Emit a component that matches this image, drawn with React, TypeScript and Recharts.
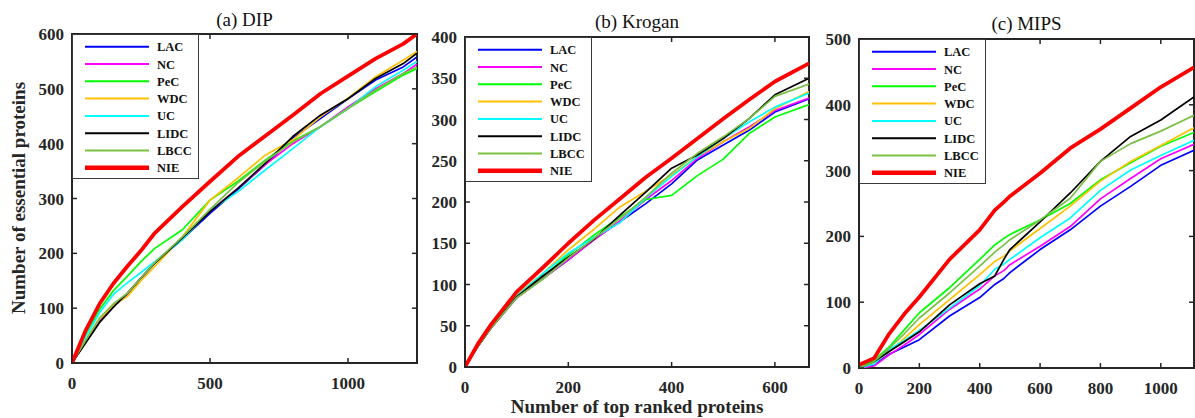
import React from 'react';
import { LineChart, Line, XAxis, YAxis, ReferenceArea, Legend } from 'recharts';

const SERIES = ['LAC', 'NC', 'PeC', 'WDC', 'UC', 'LIDC', 'LBCC', 'NIE'];
const COLORS = ['#0000FF', '#FF00FF', '#00FF00', '#FFC000', '#00FFFF', '#000000', '#7AC143', '#FF0000'];
const WIDTHS = [1.7, 1.7, 1.7, 1.7, 1.7, 1.7, 1.7, 3.8];

// (a) DIP
const dipX = [0, 50, 100, 150, 200, 250, 300, 400, 500, 600, 700, 800, 900, 1000, 1100, 1200, 1250];
const dipLAC = [0, 40, 78, 105, 125, 155, 182, 226, 273, 316, 362, 410, 446, 482, 516, 540, 558];
const dipNC = [0, 40, 78, 105, 126, 155, 183, 228, 277, 318, 362, 400, 431, 467, 500, 528, 545];
const dipPeC = [0, 52, 98, 132, 158, 185, 209, 243, 297, 331, 370, 405, 431, 464, 495, 525, 537];
const dipWDC = [0, 42, 80, 105, 121, 150, 176, 230, 297, 337, 379, 407, 449, 483, 522, 552, 568];
const dipUC = [0, 48, 92, 125, 146, 165, 185, 225, 278, 312, 352, 391, 431, 464, 504, 534, 550];
const dipLIDC = [0, 37, 74, 102, 127, 155, 182, 228, 276, 318, 364, 413, 452, 482, 519, 546, 565];
const dipLBCC = [0, 42, 82, 108, 127, 155, 183, 230, 280, 328, 368, 403, 431, 464, 498, 528, 540];
const dipNIE = [0, 60, 108, 145, 176, 205, 237, 285, 331, 376, 414, 452, 491, 523, 555, 582, 600];

// (b) Krogan
const kroX = [0, 25, 50, 100, 150, 200, 250, 300, 350, 400, 450, 500, 550, 600, 666];
const kroLAC = [0, 25, 47, 84, 107, 130, 155, 176, 198, 222, 251, 269, 287, 309, 325];
const kroNC = [0, 25, 47, 84, 107, 130, 154, 177, 203, 226, 253, 273, 291, 311, 326];
const kroPeC = [0, 25, 48, 86, 109, 136, 160, 182, 203, 208, 232, 252, 283, 303, 318];
const kroWDC = [0, 26, 48, 87, 113, 142, 167, 194, 213, 233, 255, 273, 289, 313, 334];
const kroUC = [0, 25, 48, 86, 113, 138, 157, 175, 205, 231, 255, 277, 297, 315, 332];
const kroLIDC = [0, 25, 47, 85, 110, 133, 155, 184, 212, 241, 257, 277, 301, 330, 350];
const kroLBCC = [0, 25, 47, 84, 106, 132, 156, 180, 206, 235, 259, 279, 301, 328, 343];
const kroNIE = [0, 28, 51, 91, 120, 150, 178, 204, 230, 253, 277, 301, 324, 346, 368];

// (c) MIPS
const mipX = [0, 50, 100, 150, 200, 300, 400, 450, 480, 500, 600, 700, 800, 900, 1000, 1110];
const mipLAC = [0, 5, 21, 32, 43, 79, 107, 127, 136, 145, 180, 210, 246, 276, 308, 331];
const mipNC = [0, 3, 20, 35, 51, 89, 120, 140, 148, 157, 185, 215, 257, 288, 318, 340];
const mipPeC = [0, 12, 32, 58, 84, 122, 165, 187, 197, 203, 225, 250, 286, 312, 337, 358];
const mipWDC = [0, 8, 25, 45, 66, 104, 142, 162, 170, 178, 212, 246, 284, 314, 338, 365];
const mipUC = [0, 6, 28, 42, 57, 91, 125, 150, 158, 165, 198, 228, 270, 301, 323, 346];
const mipLIDC = [0, 10, 25, 40, 55, 96, 128, 140, 165, 180, 222, 266, 314, 352, 377, 412];
const mipLBCC = [0, 10, 30, 52, 76, 114, 155, 176, 187, 195, 225, 258, 314, 341, 360, 384];
const mipNIE = [5, 15, 52, 82, 108, 165, 210, 240, 252, 261, 296, 334, 363, 395, 427, 457];

const dipTicksX = [0, 500, 1000];
const dipTicksY = [0, 100, 200, 300, 400, 500, 600];
const kroTicksX = [0, 200, 400, 600];
const kroTicksY = [0, 50, 100, 150, 200, 250, 300, 350, 400];
const mipTicksX = [0, 200, 400, 600, 800, 1000];
const mipTicksY = [0, 100, 200, 300, 400, 500];

const titles = ['(a) DIP', '(b) Krogan', '(c) MIPS'];
const xLabel = 'Number of top ranked proteins';
const yLabel = 'Number of essential proteins';

const build = (xs: number[], cols: number[][]) =>
  xs.map((x, i) => {
    const row: any = { x };
    SERIES.forEach((s, k) => (row[s] = cols[k][i]));
    return row;
  });

const panels = [
  {
    data: build(dipX, [dipLAC, dipNC, dipPeC, dipWDC, dipUC, dipLIDC, dipLBCC, dipNIE]),
    xMax: 1250, yMax: 600, ticksX: dipTicksX, ticksY: dipTicksY,
    chartLeft: 0, width: 430, L: 72, R: 417, T: 34, B: 363, titleY: 26,
  },
  {
    data: build(kroX, [kroLAC, kroNC, kroPeC, kroWDC, kroUC, kroLIDC, kroLBCC, kroNIE]),
    xMax: 666, yMax: 400, ticksX: kroTicksX, ticksY: kroTicksY,
    chartLeft: 400, width: 420, L: 465, R: 809, T: 37, B: 367, titleY: 28,
  },
  {
    data: build(mipX, [mipLAC, mipNC, mipPeC, mipWDC, mipUC, mipLIDC, mipLBCC, mipNIE]),
    xMax: 1110, yMax: 500, ticksX: mipTicksX, ticksY: mipTicksY,
    chartLeft: 800, width: 395, L: 859, R: 1194, T: 39, B: 368, titleY: 30,
  },
];

const AX = '#262626';
const FONT = '"Liberation Serif", "Times New Roman", serif';
const YAXW = 50;
const XAXH = 30;

const LegendBox = () => (
  <div style={{ width: 127, height: 145, border: '1px solid #3a3a3a', background: '#fff', boxSizing: 'border-box' }}>
    <svg width={125} height={143} style={{ display: 'block' }}>
      {SERIES.map((s, i) => {
        const y = 11.7 + i * 17.3;
        return (
          <g key={s}>
            <line x1={12} x2={76} y1={y} y2={y} stroke={COLORS[i]} strokeWidth={i === 7 ? 4.5 : 2} />
            <text x={84} y={y + 4.5} fontFamily={FONT} fontWeight="bold" fontSize={12.5} fill="#111">{s}</text>
          </g>
        );
      })}
    </svg>
  </div>
);

function Panel({ p }: { p: any }) {
  const L = p.L - p.chartLeft;
  const R = p.R - p.chartLeft;
  const XTick = (props: any) => {
    const { x, payload } = props;
    return (
      <g>
        <line x1={x} x2={x} y1={p.B} y2={p.B - 5} stroke={AX} strokeWidth={1.5} />
        <line x1={x} x2={x} y1={p.T} y2={p.T + 5} stroke={AX} strokeWidth={1.5} />
        <text x={x} y={p.B + 26} textAnchor="middle" fontFamily={FONT} fontWeight="bold" fontSize={17} fill={AX}>{payload.value}</text>
      </g>
    );
  };
  const YTick = (props: any) => {
    const { y, payload } = props;
    return (
      <g>
        <line x1={L} x2={L + 5} y1={y} y2={y} stroke={AX} strokeWidth={1.5} />
        <line x1={R} x2={R - 5} y1={y} y2={y} stroke={AX} strokeWidth={1.5} />
        <text x={L - 8} y={y + 6} textAnchor="end" fontFamily={FONT} fontWeight="bold" fontSize={17} fill={AX}>{payload.value}</text>
      </g>
    );
  };
  return (
    <div style={{ position: 'absolute', left: p.chartLeft, top: 0 }}>
      <LineChart
        width={p.width}
        height={418}
        data={p.data}
        margin={{ top: p.T, bottom: 418 - p.B - XAXH, left: L - YAXW, right: p.width - R }}
      >
        <XAxis dataKey="x" type="number" domain={[0, p.xMax]} ticks={p.ticksX} height={XAXH}
          axisLine={false} tickLine={false} tick={XTick} allowDataOverflow interval={0} />
        <YAxis type="number" domain={[0, p.yMax]} ticks={p.ticksY} width={YAXW}
          axisLine={false} tickLine={false} tick={YTick} allowDataOverflow interval={0} />
        <ReferenceArea x1={0} x2={p.xMax} y1={0} y2={p.yMax} fill="none" stroke={AX} strokeWidth={2} fillOpacity={0} />
        {SERIES.map((s, i) => (
          <Line key={s} dataKey={s} type="linear" stroke={COLORS[i]} strokeWidth={WIDTHS[i]} dot={false}
            isAnimationActive={false} strokeLinejoin="round" />
        ))}
        <Legend layout="vertical" align="center" verticalAlign="middle" width={127} height={145}
          wrapperStyle={{ left: L, top: p.T, width: 127, height: 145 }} content={() => <LegendBox />} />
      </LineChart>
    </div>
  );
}

export default function App() {
  return (
    <div style={{ position: 'absolute', left: 0, top: 0, width: 1195, height: 418, background: '#fff', overflow: 'hidden' }}>
      {panels.map((p, i) => (
        <Panel key={i} p={p} />
      ))}
      <svg width={1195} height={418} style={{ position: 'absolute', left: 0, top: 0, pointerEvents: 'none' }}>
        {panels.map((p, i) => (
          <text key={i} x={(p.L + p.R) / 2} y={p.titleY} textAnchor="middle" fontFamily={FONT} fontSize={19} fill="#111">{titles[i]}</text>
        ))}
        <text x={637} y={413} textAnchor="middle" fontFamily={FONT} fontWeight="bold" fontSize={19} fill={AX}>{xLabel}</text>
        <text transform="translate(25,198) rotate(-90)" textAnchor="middle" fontFamily={FONT} fontWeight="bold" fontSize={19} fill={AX}>{yLabel}</text>
      </svg>
    </div>
  );
}
